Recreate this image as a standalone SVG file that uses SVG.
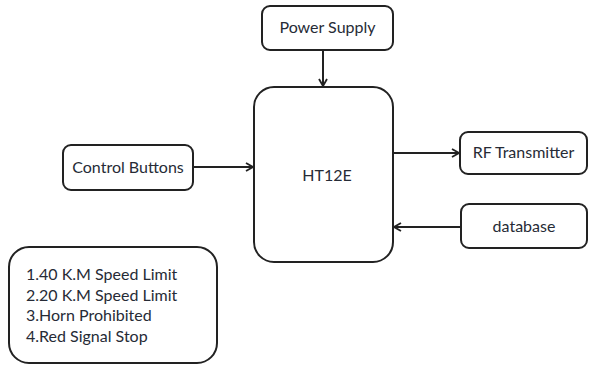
<svg xmlns="http://www.w3.org/2000/svg" width="589" height="365" viewBox="0 0 589 365">
<style>
.box{fill:#fff;stroke:#222;stroke-width:2}
.t{font-family:Lato,"Liberation Sans",sans-serif;font-size:16px;fill:#262b36}
.c{text-anchor:middle}
.ln{stroke:#222;stroke-width:2;fill:none;marker-end:url(#ah)}
</style>
<defs>
<marker id="ah" viewBox="0 0 10 10" refX="9" refY="5" markerWidth="10" markerHeight="10" markerUnits="userSpaceOnUse" orient="auto">
<polyline points="2,1 9,5 2,9" fill="none" stroke="#222" stroke-width="1.8"/>
</marker>
</defs>
<rect width="589" height="365" fill="#fff"/>
<g id="connectors">
<line class="ln" x1="323" y1="50" x2="323" y2="86"/>
<line class="ln" x1="193" y1="167" x2="253" y2="167"/>
<line class="ln" x1="393" y1="153" x2="459" y2="153"/>
<line class="ln" x1="461" y1="227" x2="394" y2="227"/>
</g>
<g id="power-supply">
<rect class="box" x="262" y="6" width="131" height="44" rx="8"/>
<text class="t c" x="327.5" y="33">Power Supply</text>
</g>
<g id="ht12e">
<rect class="box" x="254" y="87" width="139" height="175" rx="20"/>
<text class="t c" x="327" y="181">HT12E</text>
</g>
<g id="control-buttons">
<rect class="box" x="63" y="145" width="130" height="45" rx="8"/>
<text class="t c" x="128" y="173">Control Buttons</text>
</g>
<g id="rf-transmitter">
<rect class="box" x="460" y="132" width="127" height="42" rx="8"/>
<text class="t c" x="523.5" y="158">RF Transmitter</text>
</g>
<g id="database">
<rect class="box" x="461" y="204" width="126" height="44" rx="8"/>
<text class="t c" x="524" y="232">database</text>
</g>
<g id="legend">
<rect class="box" x="9" y="247" width="208" height="116" rx="20"/>
<text class="t" x="26" y="280">1.40 K.M Speed Limit</text>
<text class="t" x="26" y="301">2.20 K.M Speed Limit</text>
<text class="t" x="26" y="321">3.Horn Prohibited</text>
<text class="t" x="26" y="342">4.Red Signal Stop</text>
</g>
</svg>
